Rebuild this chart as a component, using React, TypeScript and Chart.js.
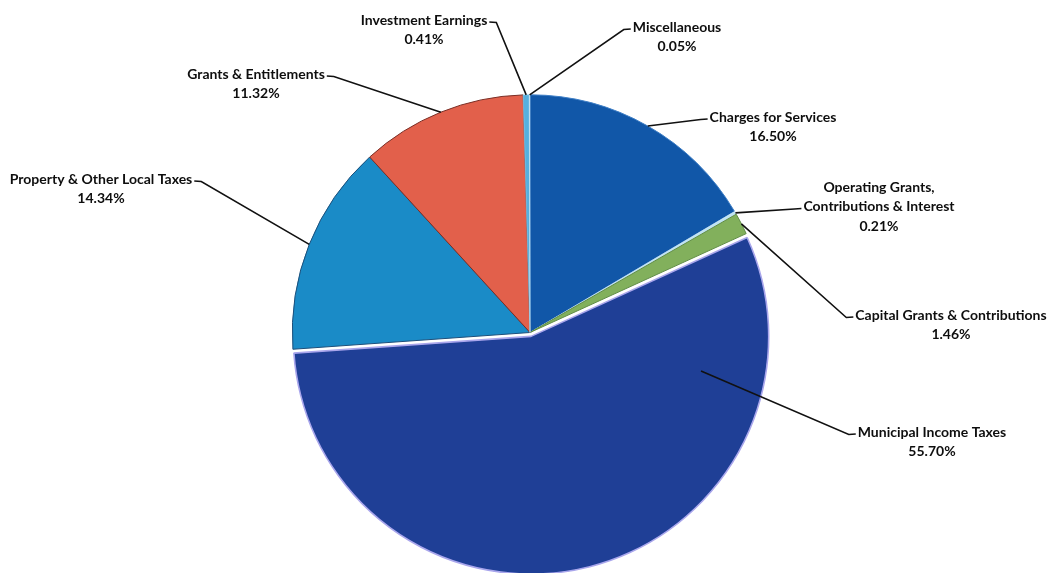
import React, { useEffect, useRef } from "react";
import { Chart, registerables } from "chart.js";

Chart.register(...registerables);

// ---- data ----
const categories = [
  "Charges for Services",
  "Operating Grants, Contributions & Interest",
  "Capital Grants & Contributions",
  "Municipal Income Taxes",
  "Property & Other Local Taxes",
  "Grants & Entitlements",
  "Investment Earnings",
  "Miscellaneous",
];
const shares = [16.5, 0.21, 1.46, 55.7, 14.34, 11.32, 0.41, 0.05];

// ---- label text (wrapped as in the picture) ----
const labelLines: string[][] = [
  ["Charges for Services"],
  ["Operating Grants,", "Contributions & Interest"],
  ["Capital Grants & Contributions"],
  ["Municipal Income Taxes"],
  ["Property & Other Local Taxes"],
  ["Grants & Entitlements"],
  ["Investment Earnings"],
  ["Miscellaneous"],
];

// ---- styles / layout ----
const sliceColors = ["#1157a8", "#bfe3f2", "#82b05c", "#1f3f96", "#1a8bc7", "#e2604b", "#56b0de", "#c8e2f2"];
const sliceBorders = ["#3f7fc6", "#d8f0f8", "#5f8c45", "#a9a6ec", "#1d4f7a", "#7a2e25", "#8fd0f0", "#c8e2f2"];
const sliceBorderWidths = [1, 0.6, 1, 1.6, 1, 1, 0.6, 0.4];
const explodePx = [0, 0, 0, 4, 0, 0, 0, 0];
const labelPos: number[][] = [
  [773, 117], [879, 187], [951, 315], [932, 432],
  [101, 179], [256, 74], [424, 20], [677, 27],
];
const labelSide = ["left", "left", "left", "left", "right", "right", "right", "left"];
const attachLine = [0, 1, 0, 0, 0, 0, 0, 0];
const anchorAt: number[][] = [
  [0.5, 1], [0.5, 1], [0.5, 1], [0.18, 0.73],
  [0.5, 1], [0.5, 1], [0.5, 1], [0.5, 1],
];
const lineHeight = 19.5;
const labelFont = "bold 14px Lato, 'Open Sans', sans-serif";

const explodePlugin = {
  id: "explodeSlices",
  beforeDatasetsDraw(chart: any) {
    const meta = chart.getDatasetMeta(0);
    meta.data.forEach((el: any, i: number) => {
      const d = explodePx[i];
      if (!d || el.__patched) return;
      const orig = el.draw.bind(el);
      el.draw = (ctx: CanvasRenderingContext2D) => {
        const mid = (el.startAngle + el.endAngle) / 2;
        ctx.save();
        ctx.translate(Math.cos(mid) * d, Math.sin(mid) * d);
        orig(ctx);
        ctx.restore();
      };
      el.__patched = true;
    });
  },
};

const labelPlugin = {
  id: "leaderLabels",
  afterDatasetsDraw(chart: any) {
    const ctx: CanvasRenderingContext2D = chart.ctx;
    const meta = chart.getDatasetMeta(0);
    ctx.save();
    ctx.font = labelFont;
    ctx.textAlign = "center";
    ctx.textBaseline = "middle";
    meta.data.forEach((el: any, i: number) => {
      const { x, y, startAngle, endAngle, outerRadius } = el.getProps(
        ["x", "y", "startAngle", "endAngle", "outerRadius"],
        true
      );
      const mid = (startAngle + endAngle) / 2;
      const ex = Math.cos(mid) * explodePx[i];
      const ey = Math.sin(mid) * explodePx[i];
      const a = startAngle + (endAngle - startAngle) * anchorAt[i][0];
      const r = outerRadius * anchorAt[i][1];
      const ax = x + ex + Math.cos(a) * r;
      const ay = y + ey + Math.sin(a) * r;

      const lines = [...labelLines[i], shares[i].toFixed(2) + "%"];
      const [cx, cy] = labelPos[i];
      const k = attachLine[i];
      const w = ctx.measureText(lines[k]).width;
      const ly = cy + k * lineHeight + 2;
      const edge = labelSide[i] === "left" ? cx - w / 2 - 2 : cx + w / 2 + 2;
      const dir = labelSide[i] === "left" ? -1 : 1;

      ctx.strokeStyle = "#111";
      ctx.lineWidth = 1.6;
      ctx.beginPath();
      ctx.moveTo(edge, ly);
      ctx.lineTo(edge + dir * 7, ly + 0.5);
      ctx.lineTo(ax, ay);
      ctx.stroke();

      ctx.fillStyle = "#0e0e0e";
      lines.forEach((t, j) => ctx.fillText(t, cx, cy + j * lineHeight));
    });
    ctx.restore();
  },
};

export default function App() {
  const ref = useRef<HTMLCanvasElement>(null);
  useEffect(() => {
    document.body.style.margin = "0";
    const chart = new Chart(ref.current as HTMLCanvasElement, {
      type: "pie",
      data: {
        labels: categories,
        datasets: [
          {
            data: shares,
            backgroundColor: sliceColors,
            borderColor: sliceBorders,
            borderWidth: sliceBorderWidths,
            hoverOffset: 0,
            offset: 0,
          },
        ],
      },
      options: {
        animation: false,
        responsive: true,
        maintainAspectRatio: false,
        layout: { padding: { top: 94, bottom: 2, left: 8, right: 0 } },
        plugins: {
          legend: { display: false },
          tooltip: { enabled: false },
          title: { display: false },
        },
        events: [],
      },
      plugins: [explodePlugin, labelPlugin],
    });
    return () => chart.destroy();
  }, []);
  return (
    <div style={{ position: "fixed", left: 0, top: 0, width: 1052, height: 573, background: "#fff" }}>
      <canvas ref={ref} />
    </div>
  );
}
